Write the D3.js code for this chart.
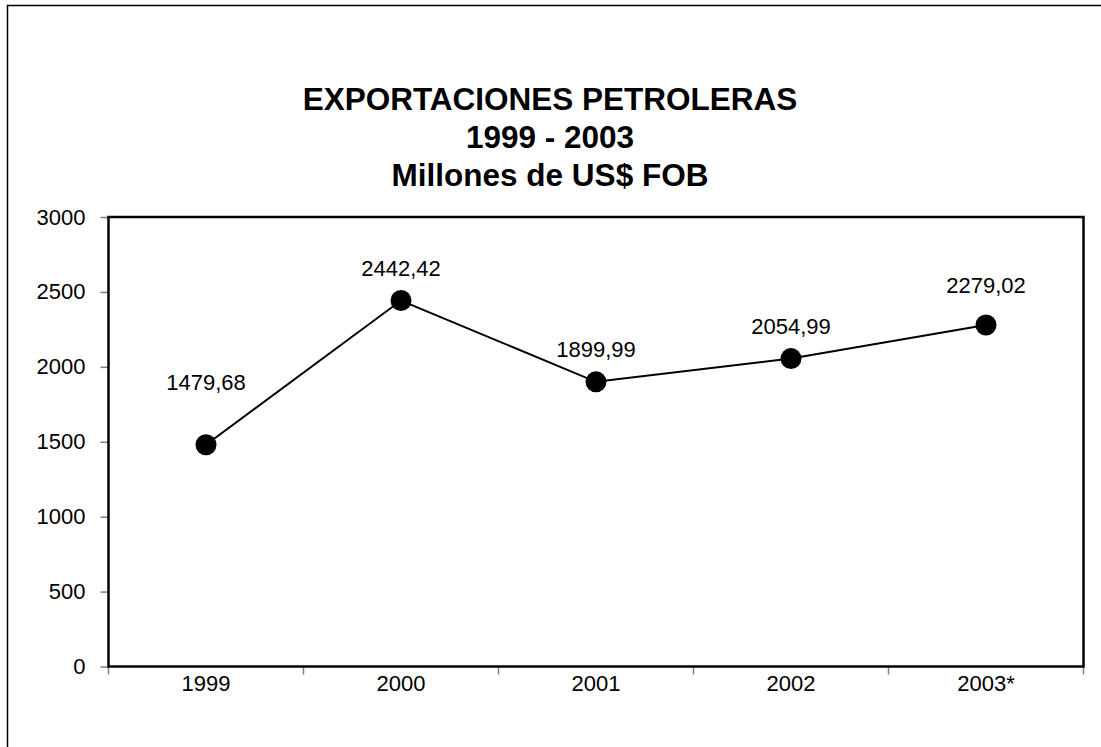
<!DOCTYPE html>
<html>
<head>
<meta charset="utf-8">
<script src="https://cdn.jsdelivr.net/npm/d3@7"></script>
<style>
  html, body { margin: 0; padding: 0; background: #fff; }
  svg { display: block; }
</style>
</head>
<body>
<svg id="chart" width="1101" height="747"></svg>
<script>
const categories = ["1999", "2000", "2001", "2002", "2003*"];
const values = [1479.68, 2442.42, 1899.99, 2054.99, 2279.02];
const valueLabels = ["1479,68", "2442,42", "1899,99", "2054,99", "2279,02"];
const yTicks = [0, 500, 1000, 1500, 2000, 2500, 3000];
const titleLines = ["EXPORTACIONES PETROLERAS", "1999 - 2003", "Millones de US$ FOB"];

(function () {
const svg = d3.select("#chart");
const font = "Arial, 'Liberation Sans', sans-serif";

// outer chart border (top and left visible)
svg.append("path")
  .attr("d", "M7.5,747 L7.5,5.5 L1101,5.5")
  .attr("fill", "none").attr("stroke", "#000").attr("stroke-width", 1.5);

const pLeft = 108.5, pRight = 1083.5, pTop = 217, pBottom = 666.5;

const x = d3.scaleBand().domain(categories).range([pLeft, pRight]).padding(0);
const y = d3.scaleLinear().domain([0, 3000]).range([pBottom, pTop]);

// title
svg.append("g").selectAll("text").data(titleLines).join("text")
  .attr("x", 550).attr("y", (d, i) => 110 + i * 38)
  .attr("text-anchor", "middle")
  .attr("font-family", font).attr("font-weight", "bold").attr("font-size", 31.5)
  .attr("fill", "#000").text(d => d);

// y axis
const yAxis = svg.append("g").attr("transform", `translate(${pLeft},0)`)
  .call(d3.axisLeft(y).tickValues(yTicks).tickSize(8).tickPadding(15).tickFormat(d3.format("d")));
yAxis.select(".domain").remove();
yAxis.selectAll(".tick line").attr("stroke", "#808080").attr("stroke-width", 1.5);
yAxis.selectAll(".tick text").attr("font-family", font).attr("font-size", 22).attr("fill", "#000");

// x axis
const xAxis = svg.append("g").attr("transform", `translate(0,${pBottom})`)
  .call(d3.axisBottom(x).tickSize(0).tickPadding(9));
xAxis.select(".domain").remove();
xAxis.selectAll(".tick text").attr("font-family", font).attr("font-size", 22).attr("fill", "#000");
const bounds = categories.map(c => x(c)).concat([x(categories[categories.length - 1]) + x.bandwidth()]);
svg.append("g").selectAll("line").data(bounds).join("line")
  .attr("x1", d => d).attr("x2", d => d).attr("y1", pBottom).attr("y2", pBottom + 8)
  .attr("stroke", "#808080").attr("stroke-width", 1.5);

// plot frame
svg.append("rect")
  .attr("x", pLeft).attr("y", pTop).attr("width", pRight - pLeft).attr("height", pBottom - pTop)
  .attr("fill", "none").attr("stroke", "#000").attr("stroke-width", 2.5);

// line
const cx = d => x(d) + x.bandwidth() / 2;
const line = d3.line().x((d, i) => cx(categories[i])).y(d => y(d));
svg.append("path").datum(values).attr("d", line)
  .attr("fill", "none").attr("stroke", "#000").attr("stroke-width", 2);

// markers
svg.append("g").selectAll("circle").data(values).join("circle")
  .attr("cx", (d, i) => cx(categories[i])).attr("cy", d => y(d)).attr("r", 10.5)
  .attr("fill", "#000");

// data labels (label offsets above each point, as placed in the original)
const labelDy = [-55, -25, -25, -25, -32];
svg.append("g").selectAll("text").data(values).join("text")
  .attr("x", (d, i) => cx(categories[i])).attr("y", (d, i) => y(d) + labelDy[i])
  .attr("text-anchor", "middle")
  .attr("font-family", font).attr("font-size", 22).attr("fill", "#000")
  .text((d, i) => valueLabels[i]);
})();
</script>
</body>
</html>
